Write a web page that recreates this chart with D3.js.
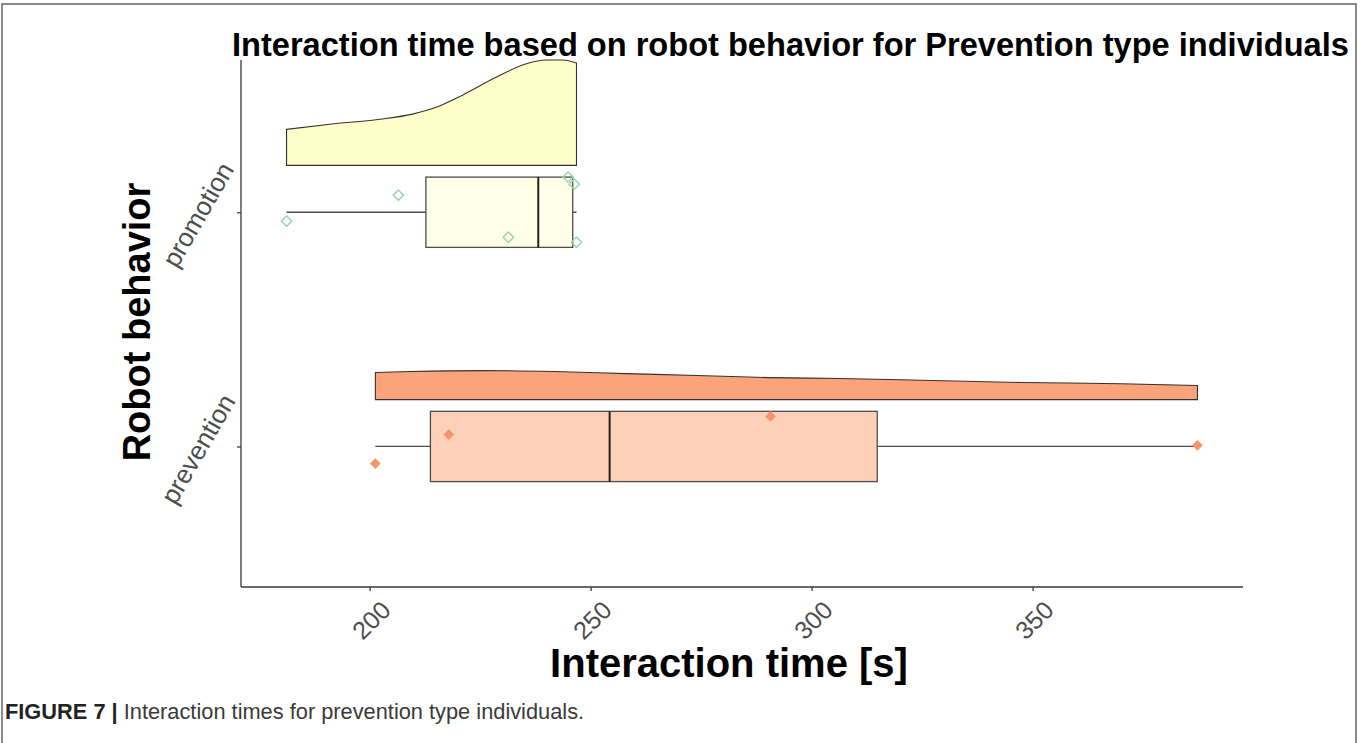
<!DOCTYPE html>
<html>
<head>
<meta charset="utf-8">
<script src="https://cdnjs.cloudflare.com/ajax/libs/d3/7.8.5/d3.min.js"></script>
<style>
  body { margin: 0; background: #fff; }
  text { font-family: "Liberation Sans", Arial, Helvetica, sans-serif; }
  .axis path, .axis line { stroke: #3a3a3a; stroke-width: 1.3; }
</style>
</head>
<body>
<script>
// Chart data
var categories = ["prevention", "promotion"];
var categoryPos = [1, 2];
var xTicks = [200, 250, 300, 350];

// Interaction times [s] per robot behavior
var promotionTimes = [181.2, 206.5, 231.4, 244.9, 246.3, 246.8];
var preventionTimes = [201.3, 217.9, 290.7, 387.3];

// Vertical jitter of each point (fraction of a category step)
var promotionJitter = [-0.038, 0.073, -0.107, 0.15, 0.12, -0.128];
var preventionJitter = [-0.073, 0.051, 0.128, 0.005];

// Half-violin density outlines (time, height)
var promotionDensX = [181.2, 191.0, 202.3, 209.7, 215.2, 221.0, 228.7, 234.6, 240.0, 243.7, 246.8];
var promotionDensY = [0.154, 0.176, 0.197, 0.219, 0.249, 0.300, 0.377, 0.429, 0.450, 0.450, 0.437];
var preventionDensX = [201.3, 209.3, 225.6, 241.6, 257.9, 274.0, 290.3, 306.3, 320.0, 347.6, 370.1, 387.3];
var preventionDensY = [0.116, 0.120, 0.124, 0.120, 0.111, 0.103, 0.094, 0.090, 0.085, 0.073, 0.068, 0.060];

var W = 1360, H = 743;
var panel = { left: 241, right: 1243, top: 60, bottom: 587 };

var groups = [
  { name: "prevention", pos: 1, times: preventionTimes, jitter: preventionJitter,
    densX: preventionDensX, densY: preventionDensY,
    dens: "#fca37b", box: "#fdd0ba", point: "#f4956b", filled: true },
  { name: "promotion", pos: 2, times: promotionTimes, jitter: promotionJitter,
    densX: promotionDensX, densY: promotionDensY,
    dens: "#fefec9", box: "#fffee6", point: "#92d6a6", filled: false }
];

var svg = d3.select("body").append("svg")
  .attr("width", W)
  .attr("height", H);

// Figure frame
svg.append("rect")
  .attr("x", 2).attr("y", 4)
  .attr("width", 1354).attr("height", 760)
  .attr("fill", "none")
  .attr("stroke", "#666")
  .attr("stroke-width", 1.5);

// Scales (ggplot style 5% expansion on x)
var allTimes = promotionTimes.concat(preventionTimes);
var ext = d3.extent(allTimes);
var pad = (ext[1] - ext[0]) * 0.05;
var xScale = d3.scaleLinear().domain([ext[0] - pad, ext[1] + pad]).range([panel.left, panel.right]);
var yScale = d3.scaleLinear().domain([0.4, 2.65]).range([panel.bottom, panel.top]);

// Axes
var xAxis = d3.axisBottom(xScale).tickValues(xTicks).tickSize(4).tickSizeOuter(0).tickFormat(d3.format("d"));
var yAxis = d3.axisLeft(yScale).tickValues(categoryPos).tickSize(4).tickSizeOuter(0)
  .tickFormat(function(d) { return categories[categoryPos.indexOf(d)]; });

var gx = svg.append("g")
  .attr("class", "x axis")
  .attr("transform", "translate(0," + panel.bottom + ")")
  .call(xAxis);
gx.select(".domain").attr("d", "M" + panel.left + ",0H" + panel.right);
gx.selectAll(".tick text")
  .attr("y", 0).attr("dy", 0)
  .attr("fill", "#4d4d4d")
  .style("font-size", "25px")
  .attr("text-anchor", "middle")
  .attr("dominant-baseline", "central")
  .attr("transform", "translate(1,33) rotate(-45)");

var gy = svg.append("g")
  .attr("class", "y axis")
  .attr("transform", "translate(" + panel.left + ",0)")
  .call(yAxis);
gy.select(".domain").attr("d", "M0," + panel.top + "V" + panel.bottom);
gy.selectAll(".tick text")
  .attr("x", 0).attr("dy", 0)
  .attr("fill", "#4d4d4d")
  .style("font-size", "26px")
  .attr("text-anchor", "middle")
  .attr("dominant-baseline", "central")
  .attr("transform", "translate(-43,2) rotate(-60)");

// Half violins
var area = d3.area()
  .curve(d3.curveMonotoneX)
  .x(function(d) { return xScale(d[0]); });

var g = svg.selectAll(".category")
  .data(groups)
  .enter()
  .append("g")
  .attr("class", "category");

g.append("path")
  .attr("d", function(d) {
    var pts = d.densX.map(function(x, i) { return [x, d.densY[i]]; });
    return area
      .y0(function() { return yScale(d.pos + 0.2); })
      .y1(function(p) { return yScale(d.pos + 0.2 + p[1]); })(pts);
  })
  .attr("fill", function(d) { return d.dens; })
  .attr("stroke", "#333")
  .attr("stroke-width", 1.1);

// Box plot stats
groups.forEach(function(d) {
  var s = d.times.slice().sort(d3.ascending);
  var q1 = d3.quantile(s, 0.25), med = d3.quantile(s, 0.5), q3 = d3.quantile(s, 0.75);
  var iqr = q3 - q1;
  var lo = d3.min(s.filter(function(v) { return v >= q1 - 1.5 * iqr; }));
  var hi = d3.max(s.filter(function(v) { return v <= q3 + 1.5 * iqr; }));
  d.stats = { q1: q1, med: med, q3: q3, lo: lo, hi: hi };
});

// Whiskers
g.append("path")
  .attr("d", function(d) {
    var y = yScale(d.pos);
    return "M" + xScale(d.stats.lo) + "," + y + "H" + xScale(d.stats.q1) +
      "M" + xScale(d.stats.q3) + "," + y + "H" + xScale(d.stats.hi);
  })
  .attr("stroke", "#4d4d4d")
  .attr("stroke-width", 1.3);

// Boxes
g.append("rect")
  .attr("x", function(d) { return xScale(d.stats.q1); })
  .attr("y", function(d) { return yScale(d.pos + 0.15); })
  .attr("width", function(d) { return xScale(d.stats.q3) - xScale(d.stats.q1); })
  .attr("height", function(d) { return yScale(d.pos - 0.15) - yScale(d.pos + 0.15); })
  .attr("fill", function(d) { return d.box; })
  .attr("stroke", "#4d4d4d")
  .attr("stroke-width", 1.3);

// Medians
g.append("line")
  .attr("x1", function(d) { return xScale(d.stats.med); })
  .attr("x2", function(d) { return xScale(d.stats.med); })
  .attr("y1", function(d) { return yScale(d.pos + 0.15); })
  .attr("y2", function(d) { return yScale(d.pos - 0.15); })
  .attr("stroke", "#222")
  .attr("stroke-width", 2);

// Jittered points
var diamond = d3.symbol().type(d3.symbolSquare);
g.each(function(d) {
  var pts = d.times.map(function(t, i) { return { t: t, j: d.jitter[i] }; });
  d3.select(this).selectAll(".pt")
    .data(pts)
    .enter()
    .append("path")
    .attr("class", "pt")
    .attr("d", diamond.size(d.filled ? 58 : 54))
    .attr("transform", function(p) {
      return "translate(" + xScale(p.t) + "," + yScale(d.pos + p.j) + ") rotate(45)";
    })
    .attr("fill", d.filled ? d.point : "none")
    .attr("stroke", d.point)
    .attr("stroke-width", d.filled ? 0 : 1.4);
});

// Titles
svg.append("text")
  .attr("x", 232)
  .attr("y", 56)
  .style("font-size", "32.6px")
  .style("font-weight", "bold")
  .attr("fill", "#000")
  .text("Interaction time based on robot behavior for Prevention type individuals");

svg.append("text")
  .attr("x", 729)
  .attr("y", 677)
  .attr("text-anchor", "middle")
  .style("font-size", "40px")
  .style("font-weight", "bold")
  .attr("fill", "#000")
  .text("Interaction time [s]");

svg.append("text")
  .attr("transform", "translate(150," + 322 + ") rotate(-90)")
  .attr("text-anchor", "middle")
  .style("font-size", "38px")
  .style("font-weight", "bold")
  .attr("fill", "#000")
  .text("Robot behavior");

// Caption
var cap = svg.append("text")
  .attr("x", 5)
  .attr("y", 719)
  .style("font-size", "21.8px")
  .attr("fill", "#3a3a3a");
cap.append("tspan").style("font-weight", "bold").attr("fill", "#222").text("FIGURE 7 | ");
cap.append("tspan").text("Interaction times for prevention type individuals.");
</script>
</body>
</html>
